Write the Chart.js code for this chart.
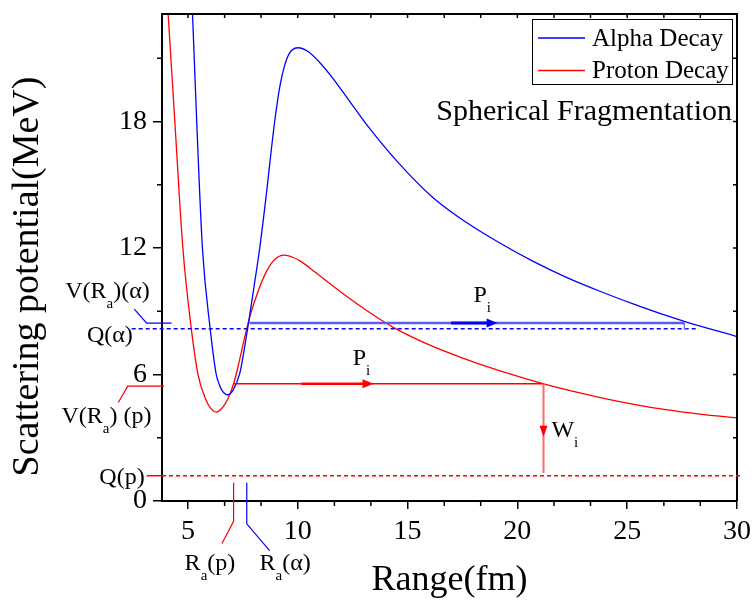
<!DOCTYPE html>
<html>
<head>
<meta charset="utf-8">
<script src="https://cdn.jsdelivr.net/npm/chart.js@4.4.1/dist/chart.umd.min.js"></script>
<style>
  html, body { margin: 0; padding: 0; background: #fff; }
  #wrap { width: 754px; height: 604px; }
</style>
</head>
<body>
<div id="wrap"><canvas id="potential"></canvas></div>
<script>
const SERIF = '"Liberation Serif", "Times New Roman", serif';

// Alpha decay curve (range fm, potential MeV)
const rangeAlpha = [5.21, 5.40, 5.66, 6.02, 6.29, 6.42, 6.55, 6.80, 7.05, 7.36, 7.69, 8.00, 8.27, 8.54, 8.95, 9.21, 9.55, 10.01, 10.5, 11.0, 11.6, 12.3, 13.12, 14.64, 16.15, 17.67, 19.18, 20.7, 22.21, 23.73, 25.24, 26.76, 27.67, 30.0];
const potAlpha = [23.1, 18.0, 12.0, 8.12, 6.0, 5.55, 5.25, 5.04, 5.25, 6.05, 8.0, 10.1, 12.0, 14.27, 18.0, 19.8, 21.1, 21.5, 21.3, 20.8, 20.05, 19.05, 17.88, 15.98, 14.4, 13.22, 12.25, 11.38, 10.62, 9.96, 9.36, 8.8, 8.5, 7.8];

// Proton decay curve
const rangeProton = [4.10, 4.40, 4.77, 5.16, 5.46, 5.80, 6.05, 6.29, 6.55, 6.80, 7.08, 7.30, 7.58, 7.85, 8.03, 8.40, 8.72, 9.00, 9.35, 9.80, 10.09, 10.8, 11.6, 12.3, 13.12, 14.33, 16.15, 17.51, 19.18, 21.19, 23.73, 25.24, 26.76, 28.3, 30.0];
const potProton = [23.1, 18.07, 12.0, 8.12, 6.0, 4.85, 4.38, 4.22, 4.4, 4.8, 5.56, 6.45, 7.75, 8.85, 9.45, 10.5, 11.15, 11.5, 11.66, 11.55, 11.4, 10.85, 10.2, 9.65, 9.05, 8.25, 7.33, 6.78, 6.18, 5.56, 4.92, 4.6, 4.33, 4.12, 3.94];

const xTicks = [5, 10, 15, 20, 25, 30];
const xMinor = [6.67, 8.33, 11.67, 13.33, 16.67, 18.33, 21.67, 23.33, 26.67, 28.33];
const yTicks = [0, 6, 12, 18];
const yMinor = [3, 9, 15, 21];

// levels (MeV) and radii (fm) used by the annotation lines
const qAlpha = 8.17, vAlpha = 8.44, raAlpha = 7.68, pStartAlpha = 7.8, rbAlpha = 27.6;
const qProton = 1.2, vProton = 5.56, raProton = 7.08, rbProton = 21.19;

function arrowHead(ctx, x1, y1, x2, y2, len, half) {
  const a = Math.atan2(y2 - y1, x2 - x1);
  const c = Math.cos(a), s = Math.sin(a);
  ctx.beginPath();
  ctx.moveTo(x2, y2);
  ctx.lineTo(x2 - len * c + half * s, y2 - len * s - half * c);
  ctx.lineTo(x2 - len * c - half * s, y2 - len * s + half * c);
  ctx.closePath();
  ctx.fill();
}

function polyline(ctx, pts) {
  ctx.beginPath();
  pts.forEach((p, i) => i ? ctx.lineTo(p[0], p[1]) : ctx.moveTo(p[0], p[1]));
  ctx.stroke();
}

// text with subscripts: parts = [[text, isSub], ...]
function subText(ctx, parts, x, y, align, size) {
  const big = size + 'px ' + SERIF, small = Math.round(size * 0.62) + 'px ' + SERIF;
  let w = 0;
  parts.forEach(p => { ctx.font = p[1] ? small : big; w += ctx.measureText(p[0]).width; });
  let cx = align === 'right' ? x - w : x;
  ctx.textAlign = 'left';
  ctx.textBaseline = 'alphabetic';
  parts.forEach(p => {
    ctx.font = p[1] ? small : big;
    ctx.fillText(p[0], cx, p[1] ? y + size * 0.42 : y);
    cx += ctx.measureText(p[0]).width;
  });
}

const labels = [
  { parts: [['V(R', 0], ['a', 1], [')(α)', 0]], x: 3.26, y: 9.64, align: 'right' },
  { parts: [['Q(α)', 0]], x: 2.49, y: 7.55, align: 'right' },
  { parts: [['V(R', 0], ['a', 1], [') (p)', 0]], x: 3.34, y: 3.71, align: 'right' },
  { parts: [['Q(p)', 0]], x: 3.03, y: 0.82, align: 'right' },
  { parts: [['P', 0], ['i', 1]], x: 12.5, y: 6.46, align: 'left' },
  { parts: [['P', 0], ['i', 1]], x: 18.0, y: 9.45, align: 'left' },
  { parts: [['W', 0], ['i', 1]], x: 21.55, y: 3.05, align: 'left' },
  { parts: [['R', 0], ['a', 1], ['(p)', 0]], x: 4.85, y: -3.25, align: 'left' },
  { parts: [['R', 0], ['a', 1], ['(α)', 0]], x: 8.26, y: -3.25, align: 'left' }
];

const decorations = {
  id: 'decorations',
  afterDraw(chart) {
    const ctx = chart.ctx, area = chart.chartArea;
    const xs = chart.scales.x, ys = chart.scales.y;
    const px = v => xs.getPixelForValue(v), py = v => ys.getPixelForValue(v);
    ctx.save();

    // frame top/right and mirrored ticks
    ctx.strokeStyle = '#000';
    ctx.lineWidth = 2;
    polyline(ctx, [[area.left, area.top], [area.right, area.top], [area.right, area.bottom]]);
    ctx.lineWidth = 1.5;
    xTicks.concat(xMinor).forEach(v => {
      const x = px(v);
      polyline(ctx, [[x, area.top], [x, area.top + 4]]);
    });
    xMinor.forEach(v => {
      const x = px(v);
      polyline(ctx, [[x, area.bottom], [x, area.bottom + 5]]);
    });
    yTicks.concat(yMinor).forEach(v => {
      const y = py(v);
      polyline(ctx, [[area.right, y], [area.right - 4, y]]);
    });
    yMinor.forEach(v => {
      const y = py(v);
      polyline(ctx, [[area.left, y], [area.left - 5, y]]);
    });

    // Q levels
    ctx.lineWidth = 1.5;
    ctx.setLineDash([4, 3]);
    ctx.strokeStyle = '#0000ff';
    polyline(ctx, [[px(2.44), py(qAlpha)], [px(28.12), py(qAlpha)]]);
    ctx.strokeStyle = '#ff0000';
    polyline(ctx, [[px(3.82), py(qProton)], [px(30.2), py(qProton)]]);
    ctx.setLineDash([]);
    polyline(ctx, [[px(3.12), py(qProton)], [px(3.82), py(qProton)]]);

    // alpha penetration path
    ctx.strokeStyle = '#5a5aff';
    ctx.fillStyle = '#0000ff';
    ctx.lineWidth = 2.5;
    polyline(ctx, [[px(pStartAlpha), py(vAlpha)], [px(rbAlpha), py(vAlpha)]]);
    ctx.lineWidth = 1.2;
    polyline(ctx, [[px(rbAlpha), py(vAlpha)], [px(rbAlpha), py(qAlpha)], [px(rbAlpha) + 3, py(qAlpha)]]);
    ctx.strokeStyle = '#0000ff';
    ctx.lineWidth = 3;
    polyline(ctx, [[px(16.98), py(vAlpha)], [px(19.1) - 8, py(vAlpha)]]);
    arrowHead(ctx, px(16.98), py(vAlpha), px(19.1), py(vAlpha), 11, 4.5);

    // proton penetration path and width
    ctx.strokeStyle = '#ff0000';
    ctx.fillStyle = '#ff0000';
    ctx.lineWidth = 1.5;
    polyline(ctx, [[px(raProton), py(vProton)], [px(rbProton), py(vProton)]]);
    ctx.lineWidth = 2.5;
    polyline(ctx, [[px(10.17), py(vProton)], [px(13.45) - 8, py(vProton)]]);
    arrowHead(ctx, px(10.17), py(vProton), px(13.45), py(vProton), 11, 4.5);
    ctx.strokeStyle = '#ff6a6a';
    ctx.lineWidth = 2;
    polyline(ctx, [[px(rbProton), py(vProton)], [px(rbProton), py(1.33)]]);
    arrowHead(ctx, px(rbProton), py(vProton), px(rbProton), py(3.05), 11, 4);

    // leader lines to the side labels
    ctx.lineWidth = 1.2;
    ctx.strokeStyle = '#0000ff';
    polyline(ctx, [[px(2.56), py(9.1)], [px(3.12), py(vAlpha)], [px(4.26), py(vAlpha)]]);
    polyline(ctx, [[px(raAlpha), py(0.86)], [px(raAlpha), py(-1.08)], [px(8.72), py(-2.35)]]);
    ctx.strokeStyle = '#ff0000';
    polyline(ctx, [[px(1.83), py(4.67)], [px(2.26), py(5.45)], [px(3.91), py(5.45)]]);
    polyline(ctx, [[px(raProton), py(0.86)], [px(raProton), py(-0.96)], [px(6.55), py(-2.02)]]);

    // texts
    ctx.fillStyle = '#000';
    labels.forEach(l => subText(ctx, l.parts, px(l.x), py(l.y), l.align, 24));

    ctx.font = '30px ' + SERIF;
    ctx.textAlign = 'right';
    ctx.fillText('Spherical Fragmentation', area.right - 5, area.top + 106);

    // y axis title
    ctx.save();
    ctx.translate(28, (area.top + area.bottom) / 2 + 19);
    ctx.rotate(-Math.PI / 2);
    ctx.font = '38px ' + SERIF;
    ctx.textAlign = 'center';
    ctx.textBaseline = 'middle';
    ctx.fillText('Scattering potential(MeV)', 0, 0);
    ctx.restore();

    // legend box
    const bx = area.right - 205, by = area.top + 5;
    ctx.fillStyle = '#fff';
    ctx.fillRect(bx, by, 200, 65);
    ctx.strokeStyle = '#000';
    ctx.lineWidth = 1;
    ctx.strokeRect(bx + 0.5, by + 0.5, 200, 65);
    ctx.font = '25px ' + SERIF;
    ctx.textAlign = 'left';
    ctx.textBaseline = 'middle';
    chart.data.datasets.forEach((d, i) => {
      const ly = by + 19 + i * 32.4;
      ctx.strokeStyle = d.borderColor;
      ctx.lineWidth = 1.5;
      polyline(ctx, [[bx + 6, ly], [bx + 53, ly]]);
      ctx.fillStyle = '#000';
      ctx.fillText(d.label, bx + 60, ly + 1);
    });
    ctx.restore();
  }
};

new Chart(document.getElementById('potential'), {
  type: 'scatter',
  data: {
    datasets: [
      {
        label: 'Alpha Decay',
        data: rangeAlpha.map((r, i) => ({ x: r, y: potAlpha[i] })),
        borderColor: '#0000ff',
        borderWidth: 1.3,
        showLine: true,
        pointRadius: 0,
        cubicInterpolationMode: 'monotone'
      },
      {
        label: 'Proton Decay',
        data: rangeProton.map((r, i) => ({ x: r, y: potProton[i] })),
        borderColor: '#ff0000',
        borderWidth: 1.3,
        showLine: true,
        pointRadius: 0,
        cubicInterpolationMode: 'monotone'
      }
    ]
  },
  options: {
    responsive: true,
    maintainAspectRatio: false,
    animation: false,
    layout: { padding: { left: 0, top: 14, right: 17, bottom: 0 } },
    plugins: { legend: { display: false }, tooltip: { enabled: false } },
    scales: {
      x: {
        type: 'linear',
        min: 3.82,
        max: 30,
        afterBuildTicks: s => { s.ticks = xTicks.map(v => ({ value: v })); },
        afterFit: s => { s.height = 103; s.paddingLeft = 0; s.paddingRight = 0; },
        ticks: { font: { family: SERIF, size: 28 }, color: '#000', padding: 6, maxRotation: 0 },
        grid: { drawOnChartArea: false, tickLength: 8, color: '#000', lineWidth: 1.5 },
        border: { color: '#000', width: 2 },
        title: { display: true, text: 'Range(fm)', font: { family: SERIF, size: 36 }, color: '#000', padding: { top: 0, bottom: 2 } }
      },
      y: {
        min: 0,
        max: 23.1,
        afterBuildTicks: s => { s.ticks = yTicks.map(v => ({ value: v })); },
        afterFit: s => { s.width = 162; s.paddingTop = 0; s.paddingBottom = 0; },
        ticks: { font: { family: SERIF, size: 28 }, color: '#000', padding: 6 },
        grid: { drawOnChartArea: false, tickLength: 9, color: '#000', lineWidth: 1.5 },
        border: { color: '#000', width: 2 }
      }
    }
  },
  plugins: [decorations]
});
</script>
</body>
</html>
